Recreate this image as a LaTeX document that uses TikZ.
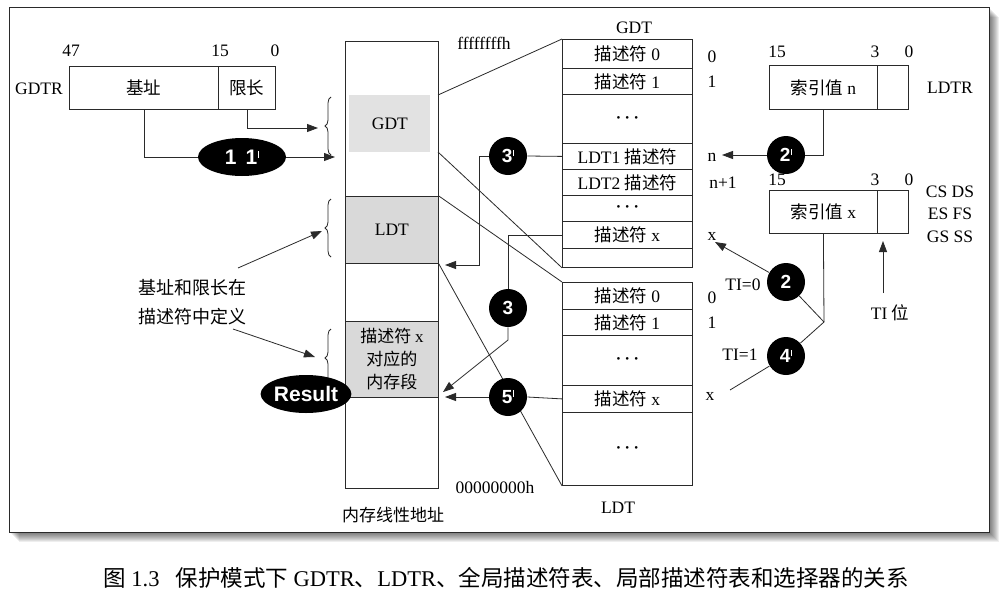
\documentclass[tikz,border=0pt]{standalone}
\usepackage{fontspec}
\setmainfont{Liberation Serif}
\newfontfamily\cjk{Noto Sans CJK SC}
\newfontfamily\hv{Liberation Sans}
\usetikzlibrary{decorations.pathreplacing,arrows.meta,shapes.geometric}
\newcommand\zh[1]{{\cjk #1}}
\newcommand\pr{\hspace{0.6pt}\raisebox{6.5pt}{\rule{1.1pt}{6.5pt}}}
\newcommand\dotsrow{{\fontsize{11}{11}\selectfont\textbullet\hspace{5pt}\textbullet\hspace{5pt}\textbullet}}
\definecolor{ln}{HTML}{2A2A2A}
\definecolor{segfill}{HTML}{D9D9D9}
\definecolor{gdtfill}{HTML}{E2E2E2}
\begin{document}
\begin{tikzpicture}[x=1pt,y=-1pt,line width=0.8pt,
  every node/.style={font=\fontsize{17.5}{20}\selectfont,inner sep=0pt},
  reg/.style={draw=ln,anchor=north west,inner sep=0pt},
  row/.style={draw=ln,anchor=north west,minimum width=130pt},
  blk/.style={circle,fill=black,text=white,minimum size=38pt,font=\hv\bfseries\fontsize{19}{19}\selectfont},
  oval/.style={ellipse,fill=black,text=white,minimum width=88pt,minimum height=38pt,font=\hv\bfseries\fontsize{21}{21}\selectfont},
  arr/.style={draw=ln,-{Triangle[length=11pt,width=8pt]}},
  con/.style={draw=ln},
  brc/.style={draw=ln,decorate,decoration={brace,amplitude=6pt}}]
\useasboundingbox (0,0) rectangle (1006,592);
\fill[white] (0,0) rectangle (1006,592);
% frame with shadow
\foreach \i in {1,...,10} \fill[black,opacity=0.065] (9+\i,7+\i) rectangle (989+\i,532+\i);
\fill[white] (9,7) rectangle (989,532);
\draw[ln,line width=1pt] (9,7) rectangle (989,532);

% GDTR
\node[reg,minimum width=149pt,minimum height=43pt] (gbase) at (69,66) {\zh{基址}};
\node[reg,minimum width=57pt,minimum height=43pt] (glim) at (218,66) {\zh{限长}};
\node (gt47) at (71,51) {47};
\node (gt15) at (220,51) {15};
\node (gt0) at (275,51) {0};
\node (gdtr) at (39,89) {GDTR};

% memory column
\node[reg,minimum width=93pt,minimum height=447pt] (mem) at (345,41) {};
\node[fill=gdtfill,anchor=north west,minimum width=81pt,minimum height=57pt] (mgdt) at (349,95) {GDT};
\node[reg,fill=segfill,minimum width=93pt,minimum height=67pt] (mldt) at (345,196) {LDT};
\node[reg,fill=segfill,minimum width=93pt,minimum height=76pt,align=center,font=\cjk\fontsize{17}{23}\selectfont] (mres) at (345,321) {描述符 {\rmfamily x}\\对应的\\内存段};
\node (ftop) at (484,43) {ffffffffh};
\node (fbot) at (495,488) {00000000h};
\node[font=\cjk\fontsize{17}{20}\selectfont] (mcap) at (393,515) {内存线性地址};

% braces
\draw[brc] (331,155) -- (331,97);
\draw[brc] (331,257) -- (331,199);
\draw[brc] (331,387) -- (331,329);

% GDT table
\node (gtitle) at (634,28) {GDT};
\node[row,minimum height=29pt] (g0) at (562,39) {\zh{描述符} 0};
\node[row,minimum height=26pt] (g1) at (562,68) {\zh{描述符} 1};
\node[row,minimum height=49pt] (gd1) at (562,94) {\dotsrow};
\node[row,minimum height=26pt] (gl1) at (562,143) {LDT1 \zh{描述符}};
\node[row,minimum height=26pt] (gl2) at (562,169) {LDT2 \zh{描述符}};
\node[row,minimum height=26pt] (gd2) at (562,195) {\dotsrow};
\node[row,minimum height=27pt] (gx) at (562,221) {\zh{描述符} x};
\node[row,minimum height=19pt] (ge) at (562,248) {};
\node (gi0) at (712,57) {0};
\node (gi1) at (712,82) {1};
\node (gin) at (712,157) {n};
\node (gin1) at (723,183) {n+1};
\node (gix) at (712,236) {x};

% LDT table
\node[row,minimum height=27pt] (l0) at (562,282) {\zh{描述符} 0};
\node[row,minimum height=26pt] (l1) at (562,309) {\zh{描述符} 1};
\node[row,minimum height=50pt] (ld1) at (562,335) {\dotsrow};
\node[row,minimum height=27pt] (lx) at (562,385) {\zh{描述符} x};
\node[row,minimum height=73pt] (ld2) at (562,412) {\dotsrow};
\node (ltitle) at (618,508) {LDT};
\node (li0) at (712,298) {0};
\node (li1) at (712,323) {1};
\node (lix) at (710,396) {x};

% LDTR
\node[reg,minimum width=108pt,minimum height=44pt] (ldtri) at (769,65) {\zh{索引值} n};
\node[reg,minimum width=31pt,minimum height=44pt] (ldtrb) at (877,65) {};
\node (lt15) at (777,52) {15};
\node (lt3) at (875,52) {3};
\node (lt0) at (909,52) {0};
\node (ldtr) at (950,88) {LDTR};

% selector
\node[reg,minimum width=108pt,minimum height=43pt] (seli) at (769,190) {\zh{索引值} x};
\node[reg,minimum width=31pt,minimum height=43pt] (selb) at (877,190) {};
\node (st15) at (777,180) {15};
\node (st3) at (875,180) {3};
\node (st0) at (909,180) {0};
\node (sr1) at (950,192) {CS DS};
\node (sr2) at (950,214) {ES FS};
\node (sr3) at (950,237) {GS SS};
\node (tibit) at (890,313) {TI \zh{位}};
\node (ti0) at (743,285) {TI=0};
\node (ti1) at (740,355) {TI=1};

% annotation
\node[anchor=west,align=left,font=\cjk\fontsize{18}{29}\selectfont] (note) at (138,302) {基址和限长在\\描述符中定义};

% coordinates
\coordinate (b1) at (318,128);
\coordinate (b2) at (335,157);
\coordinate (n1s) at (238,268);
\coordinate (n1e) at (322,231);
\coordinate (n2s) at (233,329);
\coordinate (n2e) at (315,357);
\coordinate (m1) at (438,95);
\coordinate (m2) at (438,152);
\coordinate (k3p) at (479,265);
\coordinate (t3p) at (445,265);
\coordinate (k3) at (508,340);
\coordinate (t3) at (443,392);
\coordinate (t5p) at (445,397);
\coordinate (t2p) at (722,155);
\coordinate (j) at (824,322);
\coordinate (t2) at (715,242);
\coordinate (e4p) at (730,390);
\coordinate (tis) at (883,293);
\coordinate (tie) at (883,241);

% zoom lines
\draw[con] (m1) -- (g0.north west);
\draw[con] (m2) -- (ge.south west);
\draw[con] (mldt.north east) -- (l0.north west);
\draw[con] (mldt.south east) -- (ld2.south west);

% circles
\node[oval] (e11) at (242,157) {1\hspace{9pt}1\pr};
\node[oval] (eres) at (306,394) {Result};
\node[blk] (c3p) at (508,156) {3\pr};
\node[blk] (c3) at (508,308) {3};
\node[blk] (c5p) at (508,397) {5\pr};
\node[blk] (c2p) at (786,155) {2\pr};
\node[blk] (c2) at (786,282) {2};
\node[blk] (c4p) at (786,356) {4\pr};

% connectors
\draw[arr] (glim.south) |- (b1);
\draw[con] (gbase.south) |- (e11.west);
\draw[arr] (e11.east) -- (b2);
\draw[arr] (n1s) -- (n1e);
\draw[arr] (n2s) -- (n2e);
\draw[con] (gl1.west) -- (c3p.east);
\draw[arr] (c3p.west) -| (k3p) -- (t3p);
\draw[con] (gx.west) -| (c3.north);
\draw[arr] (c3.south) -- (k3) -- (t3);
\draw[con] (lx.west) -- (c5p.east);
\draw[arr] (c5p.west) -- (t5p);
\draw[con] (ldtri.south) |- (c2p.east);
\draw[arr] (c2p.west) -- (t2p);
\draw[con] (seli.south) -- (j);
\draw[con] (j) -- (c2);
\draw[con] (j) -- (c4p);
\draw[con] (c4p) -- (e4p);
\draw[arr] (c2) -- (t2);
\draw[arr] (tis) -- (tie);

% caption
\node[font=\fontsize{22.5}{24}\selectfont] (cap) at (506,578) {\zh{图} 1.3\hspace{16pt}\zh{保护模式下} GDTR\zh{、}LDTR\zh{、全局描述符表、局部描述符表和选择器的关系}};
\end{tikzpicture}
\end{document}
